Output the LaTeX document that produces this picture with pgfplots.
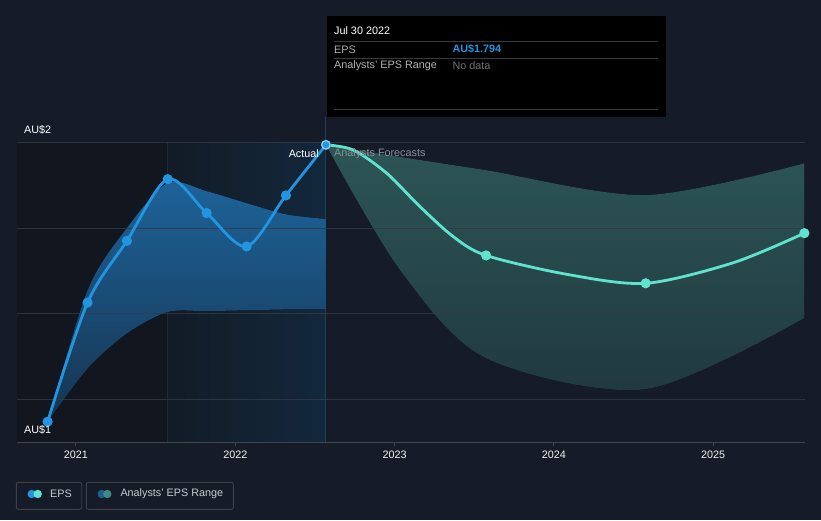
\documentclass[border=0pt]{standalone}
\usepackage{fontspec}
\setmainfont{Liberation Sans}
\usepackage{pgfplots}
\pgfplotsset{compat=1.18}
\usepgfplotslibrary{fillbetween}
\definecolor{bg}{HTML}{161C27}
\definecolor{pastdark}{HTML}{12161F}
\definecolor{lyl}{HTML}{121B26}
\definecolor{lyr}{HTML}{13283C}
\definecolor{gridc}{HTML}{343A45}
\definecolor{axisc}{HTML}{40454F}
\definecolor{epsblue}{HTML}{2394DF}
\definecolor{epsteal}{HTML}{5FE3CD}
\definecolor{bandtop}{HTML}{1D6399}
\definecolor{bandbot}{HTML}{173451}
\definecolor{ftop}{HTML}{2D5556}
\definecolor{fbot}{HTML}{20393F}
\definecolor{subtext}{HTML}{8A8F98}
\definecolor{legtext}{HTML}{C5C9D0}
\definecolor{vline1}{HTML}{1E2A38}
\definecolor{vline2}{HTML}{1F3E5A}
\definecolor{tipline}{HTML}{3A3A3A}
\definecolor{legbox}{HTML}{3B404B}
\definecolor{legc1}{HTML}{1F5F8F}
\definecolor{legc2}{HTML}{3F8A83}
\newcommand\fs{\fontsize{10.8}{13}\selectfont}
\pagecolor{bg}
\begin{document}
\begin{tikzpicture}[x=1pt,y=1pt]
\path (0,0) rectangle (821,520);
\begin{axis}[
  at={(17pt,77.7pt)}, anchor=south west,
  scale only axis, width=788pt, height=322.3pt,
  xmin=2020.630, xmax=2025.576,
  ymin=1.1, ymax=1.852,
  clip=false,
  fill between/on layer=main,
  axis x line=bottom, axis y line=none,
  x axis line style={-, draw=axisc, line width=1pt},
  xtick={2021,2022,2023,2024,2025},
  xticklabels={2021,2022,2023,2024,2025},
  xtick align=outside,
  major tick length=4pt,
  tick style={draw=axisc, line width=1pt},
  ytick=\empty,
  ticklabel style={font=\fs, text=white!90!gray},
  xticklabel style={yshift=-1.5pt},
]
% background regions
\fill[pastdark] (axis cs:2020.630,1.1) rectangle (axis cs:2021.571,1.8);
\fill[left color=lyl, right color=lyr] (axis cs:2021.571,1.1) rectangle (axis cs:2022.569,1.8);
\draw[vline1, line width=0.8pt] (axis cs:2021.571,1.1) -- (axis cs:2021.571,1.8);
\draw[vline2, line width=1pt] (axis cs:2022.569,1.1) -- (axis cs:2022.569,1.859);

% actual range band
\addplot[name path=aup, draw=none, smooth] coordinates {
 (2020.822,1.148) (2021.073,1.455) (2021.320,1.600) (2021.576,1.705)
 (2021.820,1.686) (2022.071,1.658) (2022.318,1.632) (2022.569,1.621)};
\addplot[name path=alo, draw=none, smooth] coordinates {
 (2020.822,1.148) (2021.073,1.272) (2021.320,1.354) (2021.576,1.404)
 (2021.820,1.406) (2022.071,1.408) (2022.318,1.410) (2022.569,1.411)};
\addplot[top color=bandtop, bottom color=bandbot, draw=none] fill between[of=aup and alo];

% forecast range band
\addplot[name path=fup, draw=none, smooth] coordinates {
 (2022.569,1.794) (2023.034,1.766) (2023.574,1.735) (2024.576,1.677) (2025.572,1.751)};
\addplot[name path=flo, draw=none, smooth] coordinates {
 (2022.569,1.794) (2023.034,1.502) (2023.574,1.296) (2024.576,1.224) (2025.572,1.390)};
\addplot[top color=ftop, bottom color=fbot, draw=none] fill between[of=fup and flo];

% gridlines
\draw[gridc, opacity=0.8, line width=1pt] (axis cs:2020.630,1.8) -- (axis cs:2025.576,1.8);
\draw[gridc, opacity=0.8, line width=1pt] (axis cs:2020.630,1.6) -- (axis cs:2025.576,1.6);
\draw[gridc, opacity=0.8, line width=1pt] (axis cs:2020.630,1.4) -- (axis cs:2025.576,1.4);
\draw[gridc, opacity=0.8, line width=1pt] (axis cs:2020.630,1.2) -- (axis cs:2025.576,1.2);
\draw[axisc, line width=1pt] (axis cs:2020.630,1.1) -- (axis cs:2025.576,1.1);

% forecast line
\addplot[epsteal, line width=2.8pt, smooth, mark=*, mark size=3.6pt, mark indices={6,8,10},
  mark options={fill=epsteal, draw=none}] coordinates {
 (2022.569,1.794) (2022.741,1.782) (2022.950,1.728) (2023.159,1.650) (2023.368,1.580)
 (2023.574,1.536) (2024.080,1.492) (2024.576,1.471) (2025.126,1.519) (2025.572,1.588)};

% actual EPS line
\addplot[epsblue, line width=2.8pt, smooth, mark=*, mark size=3.6pt,
  mark options={fill=epsblue, draw=none}] coordinates {
 (2020.822,1.148) (2021.073,1.426) (2021.320,1.570) (2021.576,1.714)
 (2021.820,1.635) (2022.071,1.557) (2022.318,1.676) (2022.569,1.794)};
\addplot[only marks, mark=*, mark size=4.2pt, mark options={fill=epsblue, draw=epsblue!45!white, line width=1.1pt}]
 coordinates {(2022.569,1.794)};
\end{axis}

% y labels
\node[anchor=west, font=\fs, text=white, inner sep=0pt] at (24,390) {AU\$2};
\node[anchor=west, font=\fs, text=white, inner sep=0pt] at (24,90) {AU\$1};
\node[anchor=east, font=\fs, text=white, inner sep=0pt] at (319,366) {Actual};
\node[anchor=west, font=\fs, text=subtext, inner sep=0pt] at (334,366) {Analysts Forecasts};

% tooltip
\fill[black] (326.7,504) rectangle (666,403);
\draw[tipline, line width=0.8pt] (334,478.7) -- (658,478.7);
\draw[tipline, line width=0.8pt] (334,461.7) -- (658,461.7);
\draw[tipline, line width=0.8pt] (334,410.7) -- (658,410.7);
\node[anchor=west, font=\fs, text=white, inner sep=0pt] at (334,489) {Jul 30 2022};
\node[anchor=west, font=\fs, text=white!70!black, inner sep=0pt] at (334,470.7) {EPS};
\node[anchor=west, font=\fs\bfseries, text=epsblue, inner sep=0pt] at (452.3,470.7) {AU\$1.794};
\node[anchor=west, font=\fs, text=white!70!black, inner sep=0pt] at (334,454) {Analysts' EPS Range};
\node[anchor=west, font=\fs, text=white!45!black, inner sep=0pt] at (452.3,454) {No data};

% legend
\draw[legbox, line width=0.9pt, rounded corners=2pt] (16.3,37.7) rectangle (81.7,10.7);
\fill[epsblue] (31.7,26) circle (4.2);
\fill[epsteal] (37.7,26) circle (4.2);
\node[anchor=west, font=\fs, text=legtext, inner sep=0pt] at (50,26) {EPS};
\draw[legbox, line width=0.9pt, rounded corners=2pt] (86.3,37.7) rectangle (233.3,10.7);
\fill[legc1] (101.7,26) circle (4.2);
\fill[legc2] (107.3,26) circle (4.2);
\node[anchor=west, font=\fs, text=legtext, inner sep=0pt] at (120.3,26) {Analysts' EPS Range};
\end{tikzpicture}
\end{document}
